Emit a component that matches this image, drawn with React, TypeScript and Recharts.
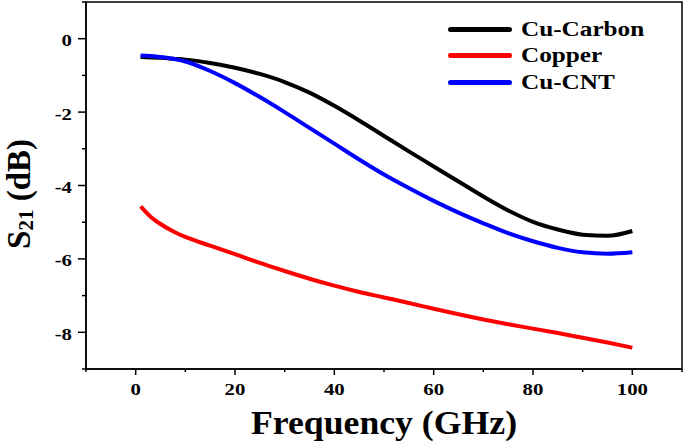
import { LineChart, Line, XAxis, YAxis, ReferenceArea, Legend } from 'recharts';

const freq = [1, 3, 5, 8, 10, 15, 20, 25, 30, 35, 40, 45, 50, 55, 60, 65, 70, 75, 80, 85, 90, 95, 100];
const cuCarbon = [-0.5, -0.51, -0.52, -0.55, -0.57, -0.66, -0.79, -0.96, -1.18, -1.47, -1.83, -2.23, -2.65, -3.07, -3.48, -3.89, -4.3, -4.68, -4.99, -5.2, -5.34, -5.37, -5.24];
const copper = [-4.57, -4.85, -5.05, -5.28, -5.4, -5.64, -5.87, -6.11, -6.33, -6.54, -6.73, -6.9, -7.05, -7.2, -7.36, -7.51, -7.65, -7.78, -7.9, -8.02, -8.15, -8.28, -8.42];
const cuCnt = [-0.46, -0.47, -0.5, -0.56, -0.62, -0.88, -1.21, -1.59, -2.0, -2.43, -2.86, -3.29, -3.7, -4.07, -4.42, -4.74, -5.03, -5.3, -5.52, -5.7, -5.82, -5.86, -5.82];

const xTicks = [-10, 0, 10, 20, 30, 40, 50, 60, 70, 80, 90, 100, 110];
const yTicks = [1, 0, -1, -2, -3, -4, -5, -6, -7, -8, -9];

const SERIES = [
  { key: 'cuCarbon', name: 'Cu-Carbon', color: '#000000' },
  { key: 'copper', name: 'Copper', color: '#ff0000' },
  { key: 'cuCnt', name: 'Cu-CNT', color: '#0000ff' },
];

const data = freq.map((f, i) => ({ f, cuCarbon: cuCarbon[i], copper: copper[i], cuCnt: cuCnt[i] }));

const FONT = "'Liberation Serif', 'Times New Roman', serif";

function XTick({ x, y, payload }: any) {
  const major = payload.value % 20 === 0 && payload.value >= 0 && payload.value <= 100;
  return (
    <g>
      <line x1={x} x2={x} y1={y} y2={y + (major ? 6 : 3)} stroke="#000" strokeWidth={1.5} />
      {major && (
        <text
          transform={`translate(${x},${y + 26}) scale(1.3,1)`}
          textAnchor="middle"
          fontFamily={FONT}
          fontWeight="bold"
          fontSize={16}
          fill="#000"
        >
          {payload.value}
        </text>
      )}
    </g>
  );
}

function YTick({ x, y, payload }: any) {
  const major = payload.value % 2 === 0;
  return (
    <g>
      <line x1={x} x2={x - (major ? 8 : 4)} y1={y} y2={y} stroke="#000" strokeWidth={1.5} />
      {major && (
        <text
          transform={`translate(${x - 14},${y + 7.5}) scale(1.3,1)`}
          textAnchor="end"
          fontFamily={FONT}
          fontWeight="bold"
          fontSize={16}
          fill="#000"
        >
          {payload.value}
        </text>
      )}
    </g>
  );
}

function LegendBox() {
  return (
    <div style={{ fontFamily: FONT, fontWeight: 'bold' }}>
      {SERIES.map((s) => (
        <div key={s.key} style={{ display: 'flex', alignItems: 'center', height: 26.5 }}>
          <div style={{ width: 64, height: 5, borderRadius: 3, background: s.color, marginRight: 9 }} />
          <span
            style={{
              fontSize: 21,
              display: 'inline-block',
              transform: 'scaleX(1.2)',
              transformOrigin: 'left center',
              lineHeight: 1,
            }}
          >
            {s.name}
          </span>
        </div>
      ))}
    </div>
  );
}

export default function App() {
  return (
    <div style={{ position: 'absolute', left: 0, top: 0, background: '#fff' }}>
      <LineChart width={685} height={444} data={data} margin={{ top: 2, right: 3, bottom: 0, left: 0 }}>
        <XAxis
          dataKey="f"
          type="number"
          domain={[-10, 110]}
          ticks={xTicks}
          interval={0}
          tickSize={0}
          tickMargin={0}
          tickLine={false}
          tick={<XTick />}
          height={75}
          stroke="#000"
          strokeWidth={1.5}
          label={({ viewBox }: any) => (
            <text
              transform={`translate(${viewBox.x + viewBox.width / 2},${viewBox.y + 65}) scale(1.05,1)`}
              textAnchor="middle"
              fontFamily={FONT}
              fontWeight="bold"
              fontSize={34}
              fill="#000"
            >
              Frequency (GHz)
            </text>
          )}
        />
        <YAxis
          type="number"
          domain={[-9, 1]}
          ticks={yTicks}
          interval={0}
          tickSize={0}
          tickMargin={0}
          tickLine={false}
          tick={<YTick />}
          width={86}
          stroke="#000"
          strokeWidth={1.5}
          label={() => (
            <text
              transform="translate(30,194) rotate(-90)"
              textAnchor="middle"
              fontFamily={FONT}
              fontWeight="bold"
              fontSize={33}
              fill="#000"
            >
              <tspan>S</tspan>
              <tspan fontSize={21} dy={3}>21</tspan>
              <tspan dy={-3}> (dB)</tspan>
            </text>
          )}
        />
        <ReferenceArea x1={-10} x2={110} y1={-9} y2={1} fill="none" stroke="#000" strokeWidth={1.5} ifOverflow="visible" />
        <Legend
          layout="vertical"
          align="center"
          verticalAlign="middle"
          content={<LegendBox />}
          wrapperStyle={{ left: 448, top: 16, width: 230, height: 'auto' }}
        />
        {SERIES.map((s) => (
          <Line
            key={s.key}
            dataKey={s.key}
            name={s.name}
            type="monotone"
            stroke={s.color}
            strokeWidth={4}
            dot={false}
            isAnimationActive={false}
          />
        ))}
      </LineChart>
    </div>
  );
}
